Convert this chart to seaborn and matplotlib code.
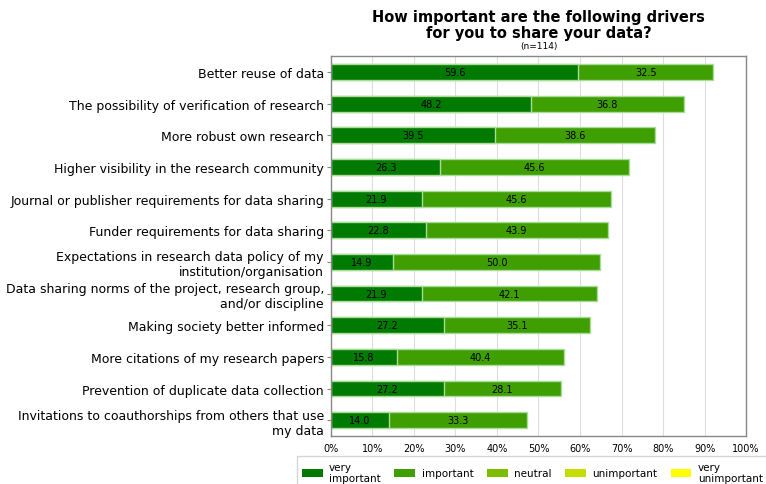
import pandas as pd
import numpy as np
import matplotlib.pyplot as plt
import seaborn as sns
from matplotlib.patches import Patch
from matplotlib.ticker import PercentFormatter

drivers = [
    "Better reuse of data",
    "The possibility of verification of research",
    "More robust own research",
    "Higher visibility in the research community",
    "Journal or publisher requirements for data sharing",
    "Funder requirements for data sharing",
    "Expectations in research data policy of my\ninstitution/organisation",
    "Data sharing norms of the project, research group,\nand/or discipline",
    "Making society better informed",
    "More citations of my research papers",
    "Prevention of duplicate data collection",
    "Invitations to coauthorships from others that use\nmy data",
]
very_important = [59.6, 48.2, 39.5, 26.3, 21.9, 22.8, 14.9, 21.9, 27.2, 15.8, 27.2, 14.0]
important = [32.5, 36.8, 38.6, 45.6, 45.6, 43.9, 50.0, 42.1, 35.1, 40.4, 28.1, 33.3]

categories = ["very\nimportant", "important", "neutral", "unimportant", "very\nunimportant"]
colors = ["#007a00", "#3f9e00", "#7cbd00", "#c2df00", "#ffff00"]

df = pd.DataFrame({
    "driver": drivers,
    "very": very_important,
    "imp": important,
})
df["total"] = df["very"] + df["imp"]

sns.set_style("white")
plt.rcParams["font.family"] = ["DejaVu Sans"]
plt.rcParams["text.color"] = "black"
plt.rcParams["xtick.color"] = "black"
plt.rcParams["ytick.color"] = "black"

fig = plt.figure(figsize=(7.66, 4.85), dpi=100)
ax = fig.add_axes([0.432, 0.099, 0.542, 0.783])

ax.xaxis.grid(True, color="#dddddd", linewidth=0.8)
ax.set_axisbelow(True)

edge = "#a8dc98"
sns.barplot(data=df, x="total", y="driver", color=colors[1], width=0.5,
            edgecolor=edge, linewidth=1, saturation=1, ax=ax)
sns.barplot(data=df, x="very", y="driver", color=colors[0], width=0.5,
            edgecolor=edge, linewidth=1, saturation=1, ax=ax)

for i, row in df.iterrows():
    ax.text(row["very"] / 2, i, f"{row['very']:.1f}", ha="center", va="center", fontsize=7)
    ax.text(row["very"] + row["imp"] / 2, i, f"{row['imp']:.1f}", ha="center", va="center", fontsize=7)

ax.set_xlim(0, 100)
ax.set_xticks(np.arange(0, 101, 10))
ax.xaxis.set_major_formatter(PercentFormatter(decimals=0))
ax.set_xlabel("")
ax.set_ylabel("")
ax.tick_params(axis="x", labelsize=7, length=0, pad=5)
ax.tick_params(axis="y", labelsize=9, length=3, pad=2, left=True, color="#888888")
for s in ax.spines.values():
    s.set_color("#888888")
    s.set_linewidth(1)

fig.text(0.703, 0.948, "How important are the following drivers\nfor you to share your data?",
         ha="center", va="center", fontsize=10.5, fontweight="bold", linespacing=1.05)
fig.text(0.703, 0.905, "(n=114)", ha="center", va="center", fontsize=6.5)

handles = [Patch(facecolor=c, edgecolor="none") for c in colors]
fig.legend(handles, categories, loc="lower center", bbox_to_anchor=(0.695, -0.02),
           ncol=5, fontsize=7.5, frameon=True, handlelength=2, handleheight=0.9,
           handletextpad=0.6, columnspacing=1.3, borderpad=0.5, fancybox=False,
           edgecolor="#cccccc")

plt.savefig("out.png", dpi=100)
